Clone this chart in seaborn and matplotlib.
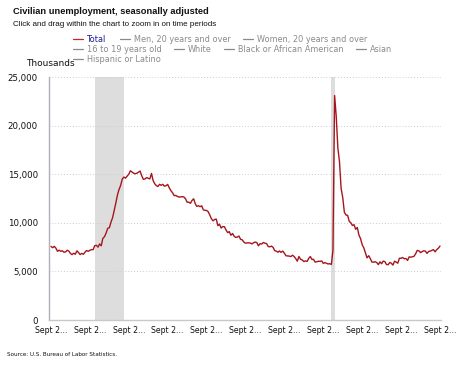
import matplotlib

matplotlib.use("Agg")

import matplotlib.pyplot as plt
import pandas as pd
import seaborn as sns
from matplotlib.lines import Line2D

# monthly unemployed persons, thousands, Sep 2005 .. Sep 2025
START = "2005-09-01"
UNEMPLOYED = [
    7579, 7434, 7579, 7397,
    7064, 7184, 7072, 7120, 6980, 7001, 7175, 7091, 6847, 6727, 6872, 6762,
    7116, 6927, 6731, 6850, 6766, 6979, 7149, 7067, 7170, 7237, 7240, 7645,
    7685, 7497, 7822, 7637, 8395, 8575, 8937, 9438, 9494, 10074, 10538, 11286,
    12058, 12898, 13426, 13853, 14499, 14707, 14601, 14814, 15009, 15352, 15219, 15098,
    15046, 15113, 15202, 15325, 14849, 14474, 14512, 14648, 14579, 14516, 15081, 14348,
    14013, 13820, 13737, 13957, 13855, 13962, 13763, 13818, 13948, 13594, 13302, 13093,
    12797, 12813, 12713, 12646, 12660, 12692, 12656, 12471, 12115, 12124, 12005, 12298,
    12471, 11950, 11689, 11760, 11654, 11751, 11335, 11279, 11270, 11136, 10787, 10404,
    10202, 10349, 10380, 9702, 9859, 9460, 9608, 9599, 9262, 8990, 9090, 8717,
    8903, 8610, 8504, 8526, 8640, 8299, 8252, 8015, 7899, 7929, 7939, 7916,
    7826, 7962, 8013, 7966, 7628, 7856, 7810, 7971, 7905, 7863, 7556, 7531,
    7599, 7465, 7143, 7081, 6974, 7096, 6958, 7094, 6868, 6607, 6593, 6575,
    6529, 6664, 6538, 6321, 6055, 6533, 6247, 6182, 6011, 6084, 6025, 6336,
    6527, 6231, 6247, 5960, 5989, 6048, 6026, 6081, 5829, 5905, 5838, 5762,
    5794, 5717, 7185, 23090, 20985, 17697, 16313, 13542, 12584, 11089, 10798, 10772,
    10151, 9993, 9723, 9807, 9331, 9519, 8747, 8374, 7740, 7425, 6896, 6389,
    6616, 6313, 5966, 5944, 5998, 5915, 5698, 5985, 5791, 6054, 6004, 5709,
    5688, 5917, 5845, 5647, 6046, 5961, 5840, 6354, 6346, 6429, 6301, 6329,
    6128, 6499, 6460, 6507, 6551, 6817, 7160, 7117, 6932, 7023, 7128, 7079,
    6849, 7052, 7083, 7165, 7237, 7015, 7236, 7384, 7603,
]

RECESSIONS = [("2007-12-01", "2009-06-01"), ("2020-02-01", "2020-04-01")]

LEGEND_ROWS = [
    ["Total", "Men, 20 years and over", "Women, 20 years and over"],
    ["16 to 19 years old", "White", "Black or African American", "Asian"],
    ["Hispanic or Latino"],
]
LEGEND_X = [
    [73, 120, 243],
    [73, 174, 224, 356],
    [73],
]

Y_TICKS = [0, 5000, 10000, 15000, 20000, 25000]
X_TICKS = pd.date_range("2005-09-01", "2025-09-01", freq="24MS")

LINE_RED = "#a5161c"
GREY = "#8a8a8a"

sns.set_theme(style="white")
plt.rcParams["font.family"] = ["DejaVu Sans"]

df = pd.DataFrame({
    "date": pd.date_range(START, periods=len(UNEMPLOYED), freq="MS"),
    "value": UNEMPLOYED,
})

W, H = 467, 369
fig = plt.figure(figsize=(W / 100, H / 100), dpi=100)
ax = fig.add_axes([49 / W, 1 - 320 / H, 392 / W, 243 / H])

for start, end in RECESSIONS:
    ax.axvspan(pd.Timestamp(start), pd.Timestamp(end), color="#dddddd", lw=0, zorder=0)

sns.lineplot(data=df, x="date", y="value", color=LINE_RED, lw=1.0, ax=ax, zorder=3)

ax.set_xlim(pd.Timestamp("2005-07-25"), pd.Timestamp("2025-09-20"))
ax.set_ylim(0, 25000)
ax.set_yticks(Y_TICKS)
ax.set_yticklabels([f"{v:,}" for v in Y_TICKS], fontsize=6.2, color="#111111")
ax.set_xticks(X_TICKS)
ax.set_xticklabels(["Sept 2..." for _ in X_TICKS], fontsize=5.6, color="#111111")
ax.tick_params(axis="y", length=6, width=0.6, color="#c8d0dc", pad=2)
ax.tick_params(axis="x", length=0, pad=4)
ax.set_xlabel("")
ax.set_ylabel("")
for y in Y_TICKS[1:]:
    ax.axhline(y, color="#c8ccd8", lw=0.7, ls=(0, (1, 2)), zorder=1)

for side in ["top", "right"]:
    ax.spines[side].set_visible(False)
ax.spines["left"].set_color("#b0b0b8")
ax.spines["left"].set_linewidth(1.0)
ax.spines["bottom"].set_color("#c8c8c8")
ax.spines["bottom"].set_linewidth(1.0)

fig.text(13 / W, 1 - 12 / H, "Civilian unemployment, seasonally adjusted",
         fontsize=6.7, fontweight="bold", family=["Liberation Sans"], va="center", color="#111111")
fig.text(13 / W, 1 - 24 / H, "Click and drag within the chart to zoom in on time periods",
         fontsize=5.75, family=["Liberation Sans"], va="center", color="#111111")

for r, (names, xs) in enumerate(zip(LEGEND_ROWS, LEGEND_X)):
    yy = 1 - (39 + r * 10) / H
    for name, x0 in zip(names, xs):
        is_total = name == "Total"
        lc = "#c0282d" if is_total else GREY
        tc = "#1a1a9a" if is_total else GREY
        fig.add_artist(Line2D([x0 / W, (x0 + 10) / W], [yy, yy], color=lc, lw=0.9,
                              transform=fig.transFigure))
        fig.text((x0 + 14) / W, yy, name, fontsize=5.85, color=tc, va="center")

fig.text(50 / W, 1 - 64 / H, "Thousands", fontsize=6.5, ha="center", va="center", color="#111111")
fig.text(7 / W, 1 - 354 / H, "Source: U.S. Bureau of Labor Statistics.",
         fontsize=4.1, va="center", color="#111111")

fig.savefig("out.png", dpi=100)
